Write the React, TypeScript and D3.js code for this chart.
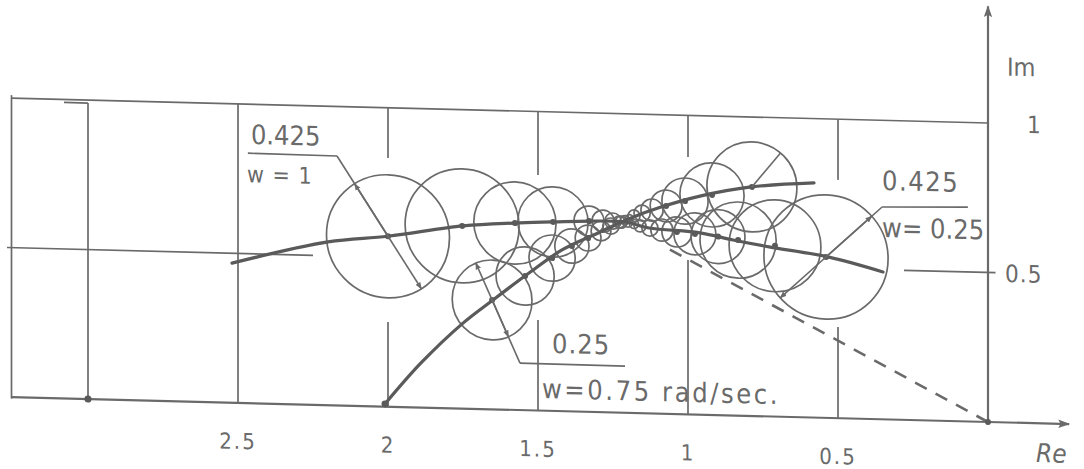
import React from 'react';
import * as d3 from 'd3';

const W = 1084;
const H = 469;

// Axis ticks (Re axis runs right-to-left: origin at right)
const reTicks = [2.5, 2, 1.5, 1, 0.5];
const reTickLabels = ['2.5', '2', '1.5', '1', '0.5'];
const imTicks = [1, 0.5];
const imTickLabels = ['1', '0.5'];

// Vertical grid lines (broken where the loci pass)
const gridRe = [3, 2.5, 2, 1.5, 1, 0.5];
const gridLowTop = [0.99, 1, 0.283, 0.303, 0.516, 0.305];
const gridHighBottom = [NaN, NaN, 0.832, 0.788, 0.861, 0.797];

// Locus A : w = 1 (left)  ->  w = 0.25 (right)
const locusARe = [2.52, 2.2, 2.0, 1.75, 1.58, 1.45, 1.33, 1.21, 1.13, 0.96, 0.85, 0.73, 0.53, 0.35];
const locusAIm = [0.467, 0.546, 0.57, 0.611, 0.625, 0.632, 0.638, 0.638, 0.62, 0.608, 0.587, 0.567, 0.538, 0.493];

// Locus B : lower-left -> upper-right
const locusBRe = [2.01, 1.89, 1.75, 1.65, 1.53, 1.42, 1.3, 1.19, 1.09, 0.96, 0.79, 0.58];
const locusBIm = [0.009, 0.149, 0.286, 0.366, 0.459, 0.539, 0.599, 0.652, 0.691, 0.731, 0.766, 0.785];

// Uncertainty circles on locus A (centre Re, Im, radius)
const circARe = [2.0, 1.753, 1.577, 1.45, 1.33, 1.283, 1.25, 1.223, 1.2, 1.18, 1.16, 1.127, 1.087, 1.037, 0.977, 0.9, 0.833, 0.71, 0.54];
const circAIm = [0.57, 0.611, 0.625, 0.632, 0.638, 0.639, 0.64, 0.637, 0.636, 0.632, 0.626, 0.62, 0.614, 0.609, 0.604, 0.597, 0.587, 0.571, 0.538];
const circAR = [0.205, 0.19, 0.137, 0.117, 0.05, 0.037, 0.027, 0.02, 0.015, 0.015, 0.02, 0.027, 0.037, 0.05, 0.07, 0.09, 0.127, 0.153, 0.207];

// Uncertainty circles on locus B
const circBRe = [1.653, 1.543, 1.453, 1.387, 1.333, 1.29, 1.257, 1.23, 1.21, 1.195, 1.18, 1.153, 1.12, 1.073, 1.01, 0.92, 0.787];
const circBIm = [0.366, 0.449, 0.511, 0.553, 0.581, 0.606, 0.623, 0.637, 0.644, 0.65, 0.659, 0.669, 0.68, 0.695, 0.713, 0.736, 0.766];
const circBR = [0.133, 0.097, 0.077, 0.057, 0.043, 0.033, 0.027, 0.02, 0.015, 0.013, 0.02, 0.027, 0.037, 0.053, 0.077, 0.107, 0.15];

// Dashed line from origin
const dashEnd = [1.077, 0.558];

// Annotations
const annLeft = ['0.425', 'w = 1'];
const annRight = ['0.425', 'w= 0.25'];
const annBottom = ['0.25', 'w=0.75 rad/sec.'];

const INK = '#6a6a6a';
const DARK = '#5a5a5a';
const FONT = "'DejaVu Sans Condensed', 'Liberation Sans Narrow', 'DejaVu Sans', sans-serif";

export default function App() {
  const x = d3.scaleLinear().domain([0, 1]).range([988, 688]);
  const y = d3.scaleLinear().domain([0, 1]).range([422, 123]);
  const rpx = (r: number) => Math.abs(x(r) - x(0));
  const skew = 1.46;

  const line = d3
    .line<[number, number]>()
    .x((d) => x(d[0]))
    .y((d) => y(d[1]))
    .curve(d3.curveCatmullRom.alpha(0.5));

  const locusA = locusARe.map((r, i) => [r, locusAIm[i]] as [number, number]);
  const locusB = locusBRe.map((r, i) => [r, locusBIm[i]] as [number, number]);

  const circA = circARe.map((r, i) => ({ cx: x(r), cy: y(circAIm[i]), r: rpx(circAR[i]) }));
  const circB = circBRe.map((r, i) => ({ cx: x(r), cy: y(circBIm[i]), r: rpx(circBR[i]) }));

  const seg = (a: [number, number], b: [number, number], extra: any = {}) => (
    <line x1={x(a[0])} y1={y(a[1])} x2={x(b[0])} y2={y(b[1])} {...extra} />
  );

  // leader through a circle: from S to centre, then arrows to both edges along same direction
  const leader = (s: [number, number], c: { cx: number; cy: number; r: number }, key: string) => {
    const sx = x(s[0]);
    const sy = y(s[1]);
    const dx = c.cx - sx;
    const dy = c.cy - sy;
    const L = Math.hypot(dx, dy);
    const ux = dx / L;
    const uy = dy / L;
    const e1 = [c.cx - ux * c.r, c.cy - uy * c.r];
    const e2 = [c.cx + ux * c.r, c.cy + uy * c.r];
    return (
      <g key={key} stroke={INK} strokeWidth={1.6} fill="none">
        <line x1={sx} y1={sy} x2={c.cx} y2={c.cy} />
        <line x1={c.cx} y1={c.cy} x2={e1[0]} y2={e1[1]} markerEnd="url(#arr)" />
        <line x1={c.cx} y1={c.cy} x2={e2[0]} y2={e2[1]} markerEnd="url(#arr)" />
      </g>
    );
  };

  const bigB = circB[circB.length - 1];
  const radAng = Math.atan2(-0.772, 0.636);

  return (
    <svg
      width={W}
      height={H}
      style={{ position: 'absolute', left: 0, top: 0, background: '#ffffff' }}
    >
      <defs>
        <marker id="arr" viewBox="0 0 10 10" refX="9" refY="5" markerWidth="7" markerHeight="7" orient="auto" markerUnits="userSpaceOnUse">
          <path d="M0,1 L10,5 L0,9 z" fill={INK} />
        </marker>
        <marker id="axarr" viewBox="0 0 10 10" refX="9" refY="5" markerWidth="16" markerHeight="12" orient="auto" markerUnits="userSpaceOnUse">
          <path d="M0,1.5 L10,5 L0,8.5 L2,5 z" fill={INK} />
        </marker>
      </defs>
      <rect width={W} height={H} fill="#fff" />
      <g transform={`translate(${x(0)},${y(0)}) skewY(${skew}) translate(${-x(0)},${-y(0)})`}>
        {/* frame and grid */}
        <g stroke={INK} strokeWidth={1.7} fill="none">
          {seg([3.255, -0.005], [3.255, 1.01])}
          {seg([3.255, 1], [0, 1])}
          {seg([3.27, 0.5], [2.25, 0.5])}
          {seg([0.28, 0.5], [-0.025, 0.5])}
          {seg([3.08, 0.99], [3.0, 0.99])}
          {gridRe.map((g, i) => (
            <g key={'g' + i}>
              {seg([g, 0], [g, gridLowTop[i]])}
              {!isNaN(gridHighBottom[i]) && seg([g, gridHighBottom[i]], [g, 1])}
            </g>
          ))}
          {/* axes */}
          {seg([3.255, 0], [-0.27, 0], { markerEnd: 'url(#axarr)', strokeWidth: 2.2 })}
          {seg([0, 0], [0, 1.39], { markerEnd: 'url(#axarr)', strokeWidth: 2.2 })}
        </g>

        {/* dashed line from origin */}
        {seg([0, 0], dashEnd as [number, number], {
          stroke: INK,
          strokeWidth: 2.6,
          strokeDasharray: '13 10',
          fill: 'none',
        })}

        {/* circles */}
        <g stroke={INK} strokeWidth={1.7} fill="none">
          {circA.map((c, i) => (
            <circle key={'a' + i} cx={c.cx} cy={c.cy} r={c.r} />
          ))}
          {circB.map((c, i) => (
            <circle key={'b' + i} cx={c.cx} cy={c.cy} r={c.r} />
          ))}
        </g>

        {/* loci */}
        <path d={line(locusA) || ''} stroke={DARK} strokeWidth={3.2} fill="none" strokeLinecap="round" />
        <path d={line(locusB) || ''} stroke={DARK} strokeWidth={3.2} fill="none" strokeLinecap="round" />

        {/* centre dots */}
        <g fill={DARK}>
          {circA.concat(circB).filter((c) => c.r > 12).map((c, i) => (
            <circle key={'d' + i} cx={c.cx} cy={c.cy} r={3} />
          ))}
          <circle cx={x(locusBRe[0])} cy={y(locusBIm[0])} r={3.5} />
          <circle cx={x(3)} cy={y(0)} r={3.5} />
          <circle cx={x(0)} cy={y(0)} r={3} />
        </g>

        {/* leaders */}
        <g stroke={INK} strokeWidth={1.6} fill="none">
          {seg([2.467, 0.836], [2.17, 0.834])}
          {seg([0.353, 0.71], [0.067, 0.717])}
          {seg([1.56, 0.157], [1.21, 0.156])}
          <line
            x1={bigB.cx}
            y1={bigB.cy}
            x2={bigB.cx + Math.cos(radAng) * bigB.r}
            y2={bigB.cy + Math.sin(radAng) * bigB.r}
          />
        </g>
        {leader([2.17, 0.834], circA[0], 'l1')}
        {leader([0.353, 0.71], circA[circA.length - 1], 'l2')}
        {leader([1.56, 0.157], circB[0], 'l3')}

        {/* texts */}
        <g fill={INK} fontFamily={FONT}>
          {reTicks.map((t, i) => (
            <text key={'rt' + i} x={x(t)} y={y(-0.154)} fontSize={22} textAnchor="middle" letterSpacing={2}>
              {reTickLabels[i]}
            </text>
          ))}
          {imTicks.map((t, i) => (
            <text key={'it' + i} x={x(i === 0 ? -0.13 : -0.057)} y={y(t) + 9} fontSize={24} letterSpacing={1}>
              {imTickLabels[i]}
            </text>
          ))}
          <text x={x(-0.063)} y={y(1.16)} fontSize={25}>Im</text>
          <text x={x(-0.16)} y={y(-0.13)} fontSize={26} fontStyle="italic">Re</text>

          <text x={x(2.457)} y={y(0.867)} fontSize={27}>{annLeft[0]}</text>
          <text x={x(2.47)} y={y(0.739)} fontSize={23} letterSpacing={1}>{annLeft[1]}</text>

          <text x={x(0.353)} y={y(0.767)} fontSize={27} letterSpacing={1.5}>{annRight[0]}</text>
          <text x={x(0.353)} y={y(0.61)} fontSize={27}>{annRight[1]}</text>

          <text x={x(1.453)} y={y(0.194)} fontSize={27} letterSpacing={1}>{annBottom[0]}</text>
          <text x={x(1.487)} y={y(0.042)} fontSize={27} letterSpacing={2.6}>{annBottom[1]}</text>
        </g>
      </g>
    </svg>
  );
}
